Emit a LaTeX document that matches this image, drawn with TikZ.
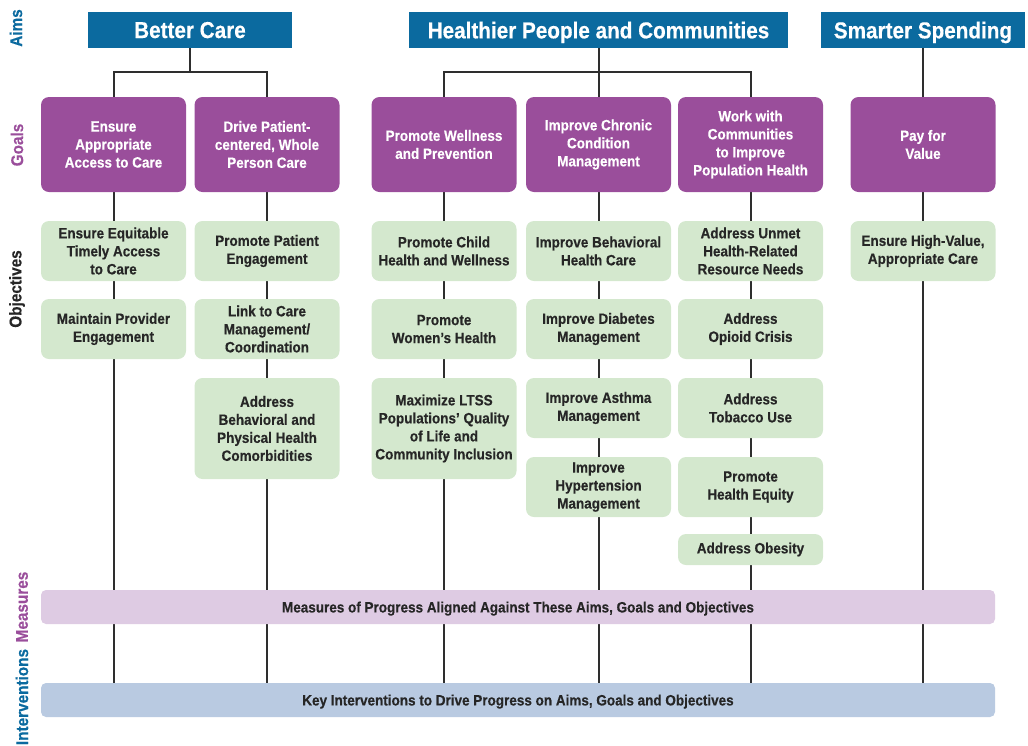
\documentclass[tikz,border=0pt]{standalone}
\usepackage{fontspec}
\setmainfont{Liberation Sans}[FakeStretch=0.9, BoldFeatures={FakeBold=0.4}]
\usepackage{xcolor}
\usetikzlibrary{backgrounds}

\definecolor{aimblue}{HTML}{0B6A9F}
\definecolor{goalpurple}{HTML}{9A4E9B}
\definecolor{objgreen}{HTML}{D4E8CE}
\definecolor{measpurple}{HTML}{DECBE3}
\definecolor{intblue}{HTML}{B9CAE1}
\definecolor{inkdark}{HTML}{262626}
\definecolor{linegray}{HTML}{2E2E2E}

\begin{document}
\begin{tikzpicture}[x=1pt, y=-1pt,
    aim/.style={fill=aimblue, text=white, inner sep=0pt, minimum height=36pt,
      text depth=0pt, font=\fontsize{23}{26}\selectfont\bfseries},
    goal/.style={fill=goalpurple, text=white, rounded corners=8pt, inner sep=0pt,
      minimum width=145pt, minimum height=95pt, align=center,
      font=\fontsize{15}{18}\selectfont\bfseries},
    obj/.style={fill=objgreen, text=inkdark, rounded corners=8pt, inner sep=0pt,
      minimum width=145pt, minimum height=60pt, align=center,
      font=\fontsize{15}{18}\selectfont\bfseries},
    bar/.style={rounded corners=5pt, text=inkdark, inner sep=0pt,
      minimum width=954pt, minimum height=34pt, text depth=0pt,
      font=\fontsize{15}{18}\selectfont\bfseries},
    side/.style={rotate=90, font=\fontsize{17}{20}\selectfont\bfseries},
    link/.style={draw=linegray, line width=2pt}]
  \useasboundingbox (0,0) rectangle (1028,745);

  % row labels
  \node[side, text=aimblue]    (lAims)  at (16,28)  {Aims};
  \node[side, text=goalpurple] (lGoals) at (17,145) {Goals};
  \node[side, text=inkdark]    (lObj)   at (17,289) {Objectives};
  \node[side, text=goalpurple] (lMeas)  at (22,607) {Measures};
  \node[side, text=aimblue]    (lInt)   at (22,697) {Interventions};

  % aims
  \node[aim, minimum width=204pt] (aimCare)   at (190,30)   {Better Care};
  \node[aim, minimum width=379pt] (aimHealth) at (598.5,30) {Healthier People and Communities};
  \node[aim, minimum width=204pt] (aimSpend)  at (923,30)   {Smarter Spending};

  % goals
  \node[goal] (g1) at (113.5,144.5) {Ensure\\Appropriate\\Access to Care};
  \node[goal] (g2) at (267,144.5)   {Drive Patient-\\centered, Whole\\Person Care};
  \node[goal] (g3) at (444,144.5)   {Promote Wellness\\and Prevention};
  \node[goal] (g4) at (598.5,144.5) {Improve Chronic\\Condition\\Management};
  \node[goal] (g5) at (750.5,144.5) {Work with\\Communities\\to Improve\\Population Health};
  \node[goal] (g6) at (923,144.5)   {Pay for\\Value};

  % objectives
  \node[obj] (o11) at (113.5,251) {Ensure Equitable\\Timely Access\\to Care};
  \node[obj] (o12) at (113.5,329) {Maintain Provider\\Engagement};

  \node[obj] (o21) at (267,251) {Promote Patient\\Engagement};
  \node[obj] (o22) at (267,329) {Link to Care\\Management/\\Coordination};
  \node[obj, minimum height=101pt] (o23) at (267,428.5)
    {Address\\Behavioral and\\Physical Health\\Comorbidities};

  \node[obj] (o31) at (444,251) {Promote Child\\Health and Wellness};
  \node[obj] (o32) at (444,329) {Promote\\Women’s Health};
  \node[obj, minimum height=101pt] (o33) at (444,428.5)
    {Maximize LTSS\\Populations’ Quality\\of Life and\\Community Inclusion};

  \node[obj] (o41) at (598.5,251) {Improve Behavioral\\Health Care};
  \node[obj] (o42) at (598.5,329) {Improve Diabetes\\Management};
  \node[obj] (o43) at (598.5,408) {Improve Asthma\\Management};
  \node[obj] (o44) at (598.5,487) {Improve\\Hypertension\\Management};

  \node[obj] (o51) at (750.5,251) {Address Unmet\\Health-Related\\Resource Needs};
  \node[obj] (o52) at (750.5,329) {Address\\Opioid Crisis};
  \node[obj] (o53) at (750.5,408) {Address\\Tobacco Use};
  \node[obj] (o54) at (750.5,487) {Promote\\Health Equity};
  \node[obj, minimum height=31pt] (o55) at (750.5,549.5) {Address Obesity};

  \node[obj] (o61) at (923,251) {Ensure High-Value,\\Appropriate Care};

  % measures and interventions
  \node[bar, fill=measpurple] (meas)   at (518,607) {Measures of Progress Aligned Against These Aims, Goals and Objectives};
  \node[bar, fill=intblue]    (interv) at (518,700) {Key Interventions to Drive Progress on Aims, Goals and Objectives};

  % connectors, behind the boxes
  \begin{scope}[on background layer]
    \coordinate (careJoin) at (190,72);
    \draw[link] (aimCare) -- (careJoin);
    \draw[link] (g1.north) -- ++(0,-25) -| (g2.north);
    \draw[link] (g3.north) -- ++(0,-25) -| (g5.north);
    \draw[link] (aimHealth) -- (g4);
    \draw[link] (aimSpend) -- (g6);
    \foreach \g in {g1,g2,g3,g4,g5,g6}
      \draw[link] (\g) -- (\g |- interv.north);
  \end{scope}
\end{tikzpicture}
\end{document}
